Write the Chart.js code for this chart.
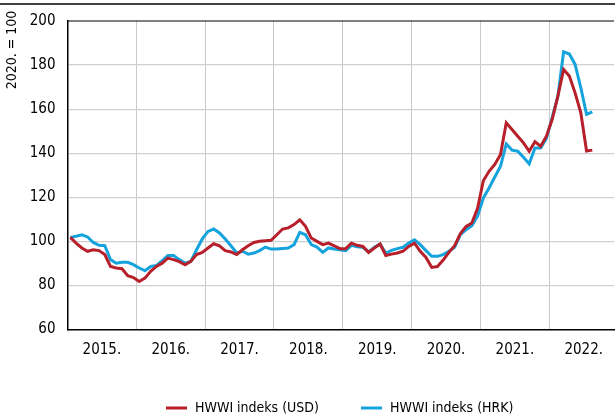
<!DOCTYPE html>
<html>
<head>
<meta charset="utf-8">
<script src="https://cdn.jsdelivr.net/npm/chart.js@4"></script>
<style>
  html, body { margin: 0; padding: 0; background: #fff; }
  #wrap { width: 615px; height: 417px; }
</style>
</head>
<body>
<div id="wrap"><canvas id="hwwi_chart" width="615" height="417"></canvas></div>
<script>
// godine (oznake na x osi)
const years = ['2015.', '2016.', '2017.', '2018.', '2019.', '2020.', '2021.', '2022.'];

// HWWI indeks (USD), mjesečno od 1/2015
const usd = [
  101.8, 99.2, 97.0, 95.5, 96.2, 95.8, 94.0, 88.6, 87.9, 87.6, 84.4, 83.6,
  81.8, 83.3, 86.4, 88.6, 90.1, 92.4, 91.7, 90.8, 89.4, 90.9, 94.0, 95.0,
  97.0, 98.9, 98.0, 95.8, 95.2, 94.0, 96.2, 98.0, 99.5, 100.0, 100.3, 100.5,
  103.0, 105.6, 106.1, 107.6, 109.8, 106.8, 101.5, 100.0, 98.5, 99.2, 98.0, 96.7,
  96.7, 99.2, 98.2, 97.7, 95.0, 97.0, 98.8, 93.6, 94.2, 94.7, 95.5, 97.7,
  99.2, 95.5, 92.7, 88.2, 88.6, 91.5, 95.0, 98.0, 103.5, 106.8, 108.3, 115.0,
  127.5, 131.8, 134.9, 139.4, 153.8, 150.8, 147.7, 144.7, 140.9, 145.2, 143.2, 147.7,
  155.3, 165.9, 178.0, 175.0, 167.4, 158.3, 141.0, 141.4
];

// HWWI indeks (HRK)
const hrk = [
  101.8, 102.3, 103.0, 102.0, 99.5, 98.2, 98.0, 91.7, 90.1, 90.5, 90.5, 89.4,
  87.9, 86.7, 88.6, 89.0, 91.2, 93.6, 93.6, 91.7, 90.1, 90.9, 96.2, 101.1,
  104.5, 105.6, 103.8, 101.1, 98.0, 94.7, 95.5, 94.2, 94.7, 95.8, 97.4, 96.5,
  96.5, 96.8, 97.0, 98.5, 104.1, 103.0, 98.5, 97.4, 95.0, 97.0, 96.5, 96.2,
  95.8, 98.2, 97.6, 97.3, 95.2, 97.3, 98.8, 94.7, 95.9, 96.7, 97.3, 99.2,
  100.7, 98.5, 95.8, 93.2, 93.2, 94.0, 95.5, 97.3, 103.0, 105.3, 107.1, 111.4,
  119.7, 124.2, 129.2, 134.1, 144.2, 141.4, 140.9, 138.2, 135.2, 142.4, 142.4, 146.7,
  156.1, 165.9, 186.0, 185.0, 180.3, 169.7, 157.6, 158.8
];

const seriesNames = ['HWWI indeks (USD)', 'HWWI indeks (HRK)'];
const yTitle = '2020. = 100';

const RED = '#B71F2A';
const BLUE = '#14A3DC';
const FONT = "'Liberation Sans Narrow', 'DejaVu Sans Condensed', 'Liberation Sans', sans-serif";

// točke na sredini mjeseca
function toPoints(arr) {
  return arr.map(function (v, i) { return { x: i + 0.5, y: v }; });
}

// okvir, naslov osi i legenda
const extras = {
  id: 'extras',
  afterDraw(chart) {
    const ctx = chart.ctx;
    const a = chart.chartArea;
    ctx.save();
    // gornja crta preko cijele širine
    ctx.strokeStyle = '#000';
    ctx.lineWidth = 1.5;
    ctx.beginPath();
    ctx.moveTo(0, 4);
    ctx.lineTo(chart.width, 4);
    ctx.stroke();
    // gornji rub grafikona
    ctx.lineWidth = 1.2;
    ctx.beginPath();
    ctx.moveTo(a.left, a.top);
    ctx.lineTo(a.right, a.top);
    ctx.stroke();

    // naslov y osi
    ctx.fillStyle = '#000';
    ctx.font = '14px ' + FONT;
    ctx.translate(12, 50);
    ctx.rotate(-Math.PI / 2);
    ctx.textAlign = 'center';
    ctx.textBaseline = 'middle';
    ctx.fillText(yTitle, 0, 0);
    ctx.restore();

    // legenda
    ctx.save();
    ctx.font = '14px ' + FONT;
    ctx.textBaseline = 'middle';
    const items = [
      { x: 166, color: RED, text: seriesNames[0] },
      { x: 361, color: BLUE, text: seriesNames[1] }
    ];
    items.forEach(function (it) {
      ctx.strokeStyle = it.color;
      ctx.lineWidth = 3;
      ctx.beginPath();
      ctx.moveTo(it.x, 408);
      ctx.lineTo(it.x + 21, 408);
      ctx.stroke();
      ctx.fillStyle = '#000';
      ctx.fillText(it.text, it.x + 29, 408);
    });
    ctx.restore();
  }
};

let ctx = document.getElementById('hwwi_chart');
let config = {
  type: 'line',
  data: {
    datasets: [
      {
        label: seriesNames[0],
        data: toPoints(usd),
        borderColor: RED,
        backgroundColor: RED,
        borderWidth: 3,
        pointRadius: 0,
        tension: 0,
        order: 1
      },
      {
        label: seriesNames[1],
        data: toPoints(hrk),
        borderColor: BLUE,
        backgroundColor: BLUE,
        borderWidth: 3,
        pointRadius: 0,
        tension: 0,
        order: 2
      }
    ]
  },
  options: {
    responsive: false,
    animation: false,
    layout: { padding: { top: 19.5, bottom: 57.5, left: 0, right: 0 } },
    plugins: {
      legend: { display: false },
      tooltip: { enabled: false }
    },
    scales: {
      x: {
        type: 'linear',
        min: 0,
        max: 95.3,
        afterBuildTicks: function (scale) {
          const t = [];
          for (let v = 0; v <= 90; v += 6) t.push({ value: v });
          scale.ticks = t;
        },
        afterFit: function (scale) { scale.height = 30; },
        ticks: {
          autoSkip: false,
          maxRotation: 0,
          padding: 12,
          color: '#000',
          font: { family: FONT, size: 15 },
          callback: function (v) {
            return v % 12 === 6 ? years[(v - 6) / 12] : '';
          }
        },
        grid: {
          drawTicks: false,
          lineWidth: 1,
          color: function (c) {
            if (c.tick && c.tick.value % 12 === 0 && c.tick.value > 0) return '#c9c9c9';
            return 'rgba(0,0,0,0)';
          }
        },
        border: { color: '#000', width: 1.5 }
      },
      y: {
        min: 60,
        max: 200,
        afterFit: function (scale) { scale.width = 67.5; },
        ticks: {
          stepSize: 20,
          padding: 12,
          color: '#000',
          font: { family: FONT, size: 15 }
        },
        grid: {
          drawTicks: false,
          lineWidth: 1.2,
          color: function (c) {
            if (c.tick && (c.tick.value === 60 || c.tick.value === 200)) return 'rgba(0,0,0,0)';
            return '#cfcfcf';
          }
        },
        border: { color: '#000', width: 1.5 }
      }
    }
  },
  plugins: [extras]
};
let hwwiChart = new Chart(ctx, config);
</script>
</body>
</html>
